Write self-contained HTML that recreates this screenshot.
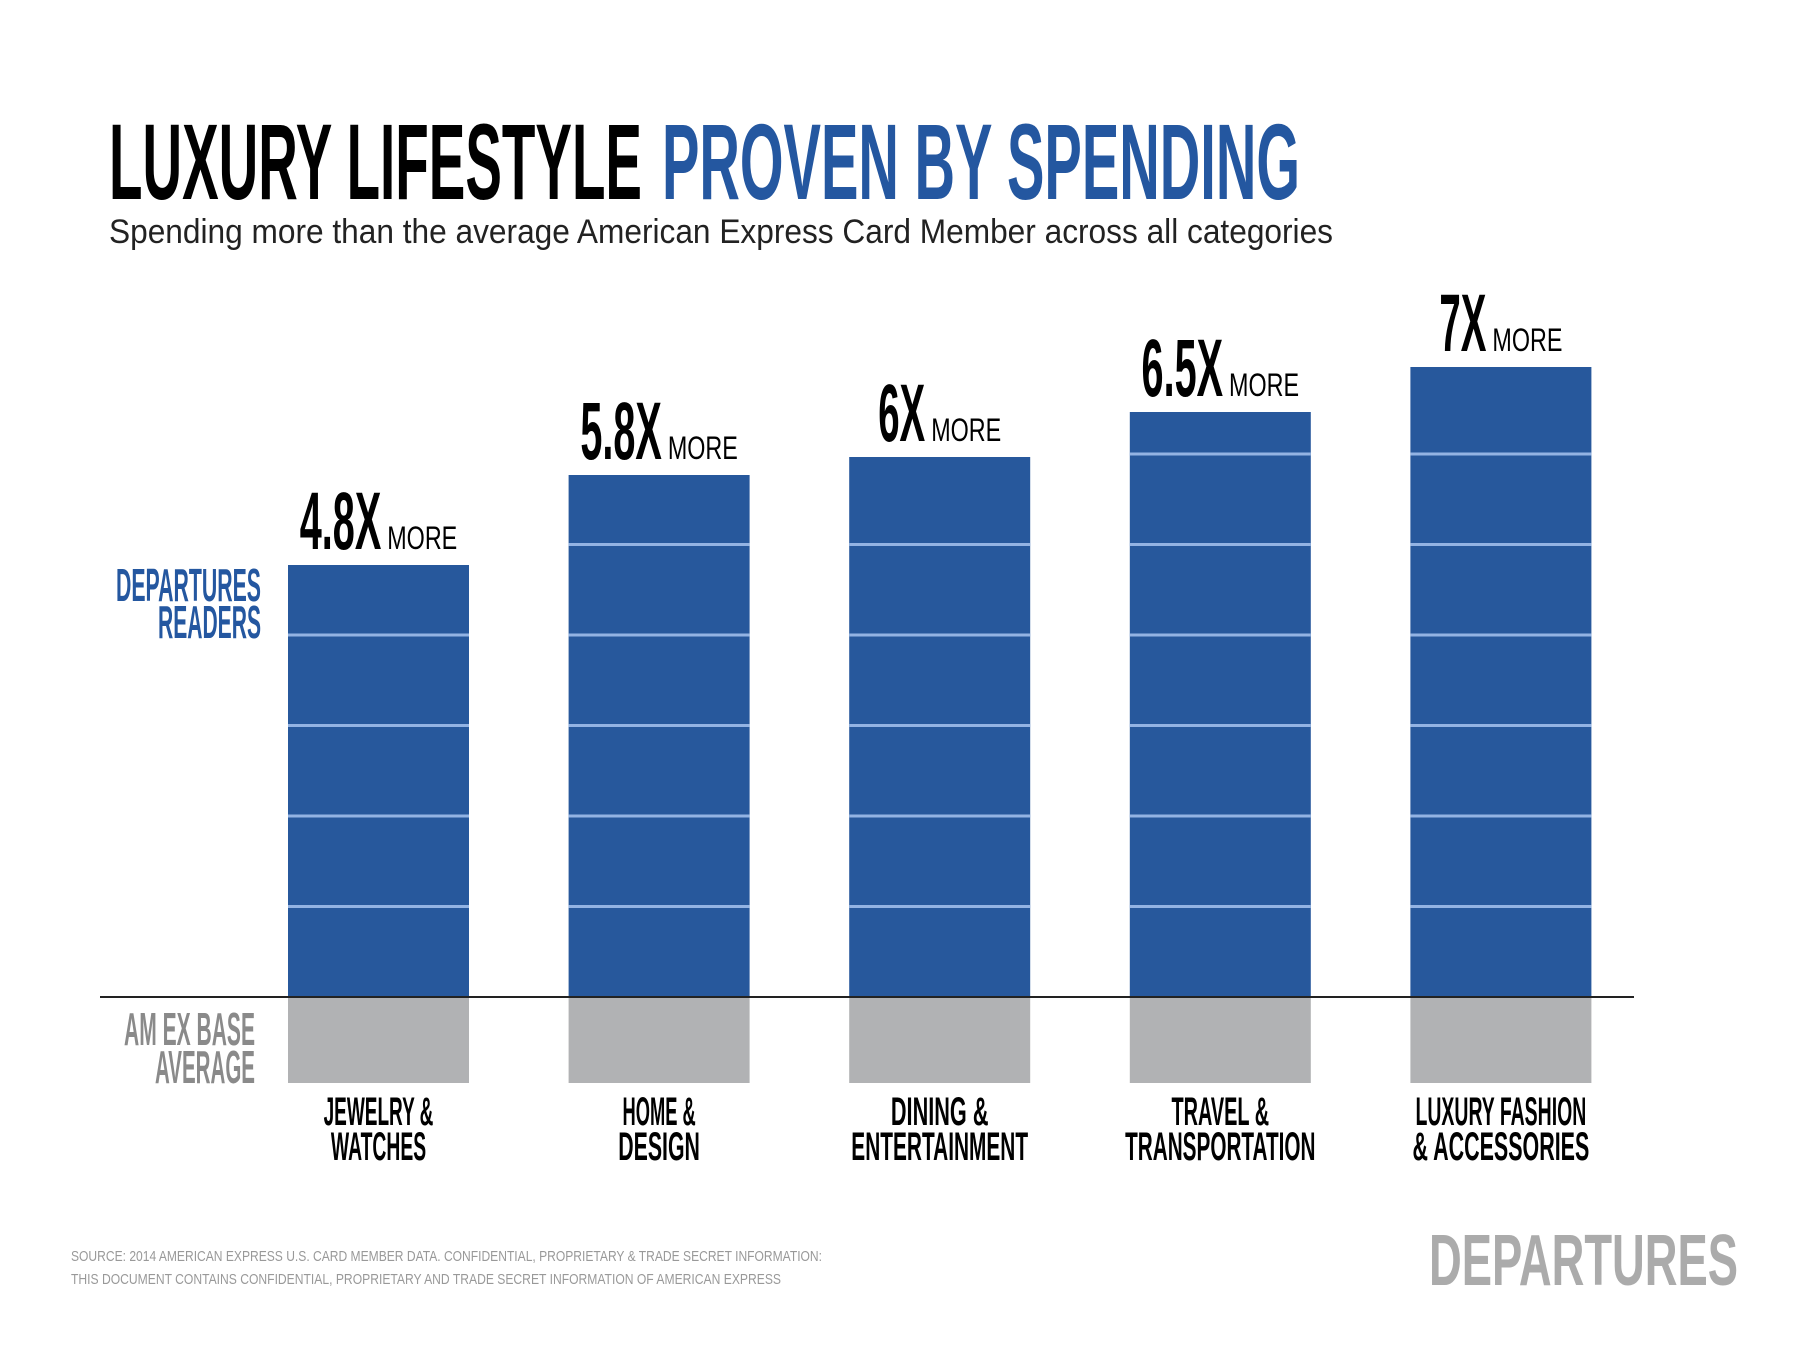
<!DOCTYPE html>
<html><head><meta charset="utf-8"><style>
html,body{margin:0;padding:0;background:#fff}
svg{display:block}
text{font-family:"Liberation Sans Narrow","Liberation Sans",sans-serif}
</style></head><body>
<svg id="chart" width="1800" height="1350" viewBox="0 0 1800 1350" xmlns="http://www.w3.org/2000/svg">
<g>
<text x="109" y="199" font-size="108" font-weight="bold" fill="#000" textLength="533" lengthAdjust="spacingAndGlyphs">LUXURY LIFESTYLE</text>
<text x="662" y="199" font-size="108" font-weight="bold" fill="#2457a0" textLength="638" lengthAdjust="spacingAndGlyphs">PROVEN BY SPENDING</text>
</g>
<text x="109" y="243" font-size="34" fill="#222" style="font-family:'Liberation Sans',sans-serif" textLength="1224" lengthAdjust="spacingAndGlyphs">Spending more than the average American Express Card Member across all categories</text>
<g fill="#2457a0" font-size="46" font-weight="bold" text-anchor="end">
<text x="261" y="601" textLength="145" lengthAdjust="spacingAndGlyphs">DEPARTURES</text>
<text x="261" y="638" textLength="103" lengthAdjust="spacingAndGlyphs">READERS</text>
</g>
<g fill="#8a8a8a" font-size="46" font-weight="bold" text-anchor="end">
<text x="255" y="1045" textLength="131" lengthAdjust="spacingAndGlyphs">AM EX BASE</text>
<text x="255" y="1083" textLength="100" lengthAdjust="spacingAndGlyphs">AVERAGE</text>
</g>
<g id="bars"></g>
<line x1="100" y1="997" x2="1634" y2="997" stroke="#222" stroke-width="2"/>
<g fill="#999" font-size="15">
<text x="71" y="1261" textLength="751" lengthAdjust="spacingAndGlyphs">SOURCE: 2014 AMERICAN EXPRESS U.S. CARD MEMBER DATA. CONFIDENTIAL, PROPRIETARY &amp; TRADE SECRET INFORMATION:</text>
<text x="71" y="1284" textLength="710" lengthAdjust="spacingAndGlyphs">THIS DOCUMENT CONTAINS CONFIDENTIAL, PROPRIETARY AND TRADE SECRET INFORMATION OF AMERICAN EXPRESS</text>
</g>
<text x="1429" y="1285" font-size="72" font-weight="bold" fill="#ababab" textLength="309" lengthAdjust="spacingAndGlyphs">DEPARTURES</text>
</svg>
<script>
const categoriesL1 = ["JEWELRY &", "HOME &", "DINING &", "TRAVEL &", "LUXURY FASHION"];
const categoriesL2 = ["WATCHES", "DESIGN", "ENTERTAINMENT", "TRANSPORTATION", "& ACCESSORIES"];
const values = [4.8, 5.8, 6, 6.5, 7];
const valueLabels = ["4.8X", "5.8X", "6X", "6.5X", "7X"];

const NS = "http://www.w3.org/2000/svg";
const g = document.getElementById("bars");
const base = 997, baseBottom = 1083, unitPx = 90, segPx = 90.5;
const x0 = 288, step = 280.6, bw = 181;
function xPos(i){ return x0 + i*step; }
function yPos(v){ return base - v*unitPx; }
function mk(tag, attrs){ const e=document.createElementNS(NS,tag); for(const k in attrs) e.setAttribute(k,attrs[k]); g.appendChild(e); return e; }

values.forEach((v,i)=>{
  const x = xPos(i), top = yPos(v);
  const bar = mk("rect",{x:x,y:top,width:bw,height:base-top,fill:"#27589c"});
  
  
  for(let n=1; base-n*segPx > top+6; n++){
    const l = mk("rect",{x:x,y:base-n*segPx-1.5,width:bw,height:3,fill:"#93b3e3"});
    
    
  }
  const gb = mk("rect",{x:x,y:base,width:bw,height:baseBottom-base,fill:"#b1b2b4"});
  
  
  const lab = valueLabels[i];
  let w = 0; for(const c of lab) w += (c==="." ? 11 : 23.5);
  const moreW = 70, gap = 6, total = w+gap+moreW;
  const cx = x + bw/2, sx = cx - total/2;
  const t1 = mk("text",{x:sx,y:top-16,"font-size":82,"font-weight":"bold",fill:"#000",textLength:w,lengthAdjust:"spacingAndGlyphs"});
  t1.textContent = lab;
  
  
  const t2 = mk("text",{x:sx+w+gap,y:top-16,"font-size":32,fill:"#000",textLength:moreW,lengthAdjust:"spacingAndGlyphs"});
  t2.textContent = "MORE";
  
  
  const c1 = mk("text",{x:cx,y:1125,"font-size":40,"font-weight":"bold",fill:"#000","text-anchor":"middle",textLength:Math.min(190,categoriesL1[i].length*12.2),lengthAdjust:"spacingAndGlyphs"});
  c1.textContent = categoriesL1[i];
  
  
  const c2 = mk("text",{x:cx,y:1160,"font-size":40,"font-weight":"bold",fill:"#000","text-anchor":"middle",textLength:Math.min(202,categoriesL2[i].length*13.6),lengthAdjust:"spacingAndGlyphs"});
  c2.textContent = categoriesL2[i];
  
  
});
</script>
</body></html>
